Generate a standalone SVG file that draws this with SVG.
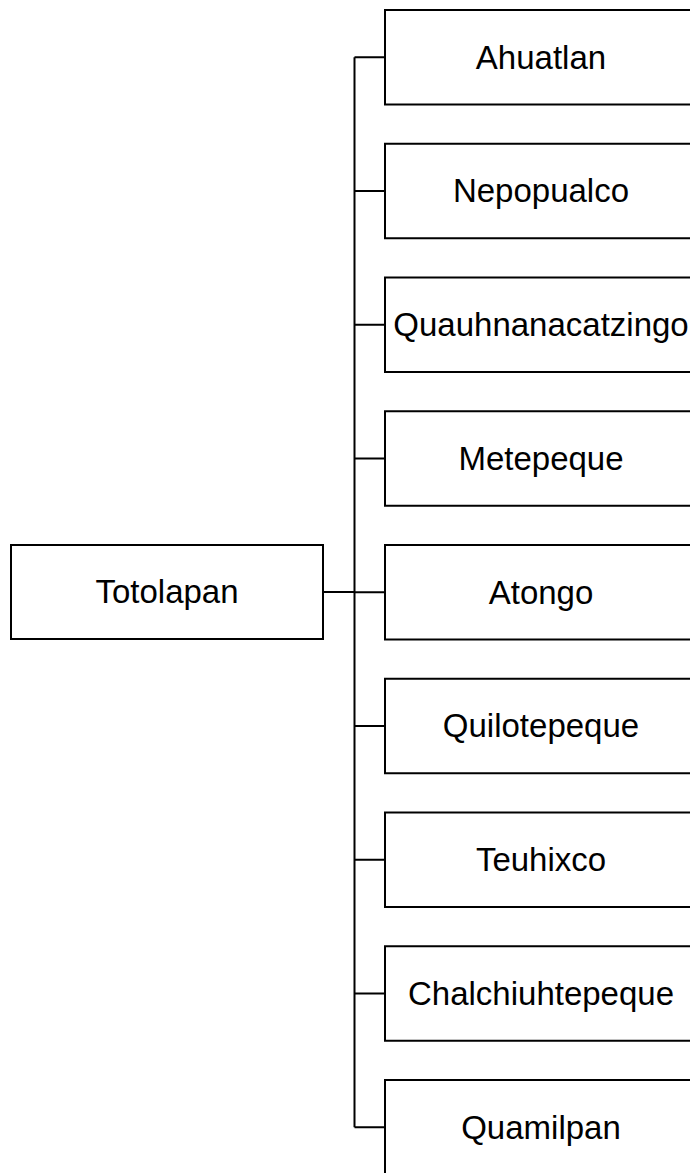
<svg xmlns="http://www.w3.org/2000/svg" width="690" height="1173" viewBox="0 0 690 1173">
<style>
rect.n{fill:#fff;stroke:#000;stroke-width:2}
text{font-family:"Liberation Sans",Arial,sans-serif;font-size:33px;fill:#000;text-anchor:middle}
.c{stroke:#000;stroke-width:2;fill:none}
</style>
<rect width="690" height="1173" fill="#fff"/>
<g id="connectors" class="c">
<path d="M323 592H354.5M354.5 57.25V1127.25"/>
<path d="M354.5 57.25H385M354.5 191H385M354.5 324.75H385M354.5 458.5H385M354.5 592.25H385M354.5 726H385M354.5 859.75H385M354.5 993.5H385M354.5 1127.25H385"/>
</g>
<g id="n-totolapan"><rect class="n" x="11" y="545" width="312" height="94"/><text x="167" y="602.5">Totolapan</text></g>
<g id="n-ahuatlan"><rect class="n" x="385" y="10" width="312" height="94.5"/><text x="541" y="68.5">Ahuatlan</text></g>
<g id="n-nepopualco"><rect class="n" x="385" y="143.75" width="312" height="94.5"/><text x="541" y="202.25">Nepopualco</text></g>
<g id="n-quauhnanacatzingo"><rect class="n" x="385" y="277.5" width="312" height="94.5"/><text x="541" y="336">Quauhnanacatzingo</text></g>
<g id="n-metepeque"><rect class="n" x="385" y="411.25" width="312" height="94.5"/><text x="541" y="469.75">Metepeque</text></g>
<g id="n-atongo"><rect class="n" x="385" y="545" width="312" height="94.5"/><text x="541" y="603.5">Atongo</text></g>
<g id="n-quilotepeque"><rect class="n" x="385" y="678.75" width="312" height="94.5"/><text x="541" y="737.25">Quilotepeque</text></g>
<g id="n-teuhixco"><rect class="n" x="385" y="812.5" width="312" height="94.5"/><text x="541" y="871">Teuhixco</text></g>
<g id="n-chalchiuhtepeque"><rect class="n" x="385" y="946.25" width="312" height="94.5"/><text x="541" y="1004.75">Chalchiuhtepeque</text></g>
<g id="n-quamilpan"><rect class="n" x="385" y="1080" width="312" height="94.5"/><text x="541" y="1138.5">Quamilpan</text></g>
</svg>
